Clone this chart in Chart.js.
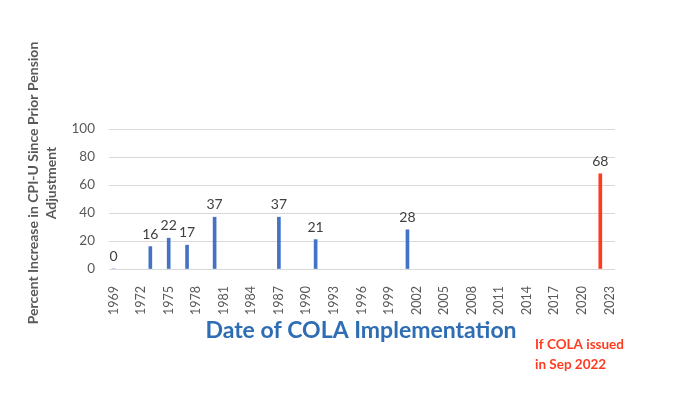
<!DOCTYPE html>
<html>
<head>
<meta charset="utf-8">
<script src="https://cdn.jsdelivr.net/npm/chart.js@4.4.0/dist/chart.umd.min.js"></script>
<style>
  body { margin: 0; background: #fff; }
  #wrap { width: 684px; height: 395px; position: relative; }
</style>
</head>
<body>
<div id="wrap"><canvas id="myChart" width="684" height="395"></canvas></div>
<script>
// years of each COLA and the CPI-U increase since the prior one
const colaYears = [1969, 1973, 1975, 1977, 1980, 1987, 1991, 2001, 2022];
const cpiIncrease = [0, 16, 22, 17, 37, 37, 21, 28, 68];
const barColors = ['#4472C4', '#4472C4', '#4472C4', '#4472C4', '#4472C4', '#4472C4', '#4472C4', '#4472C4', '#FF3B1F'];
const yearTicks = [1969, 1972, 1975, 1978, 1981, 1984, 1987, 1990, 1993, 1996, 1999, 2002, 2005, 2008, 2011, 2014, 2017, 2020, 2023];
const yTicks = [0, 20, 40, 60, 80, 100];

const points = colaYears.map((yr, i) => ({ x: yr, y: cpiIncrease[i] }));

// value labels above each bar + titles
const labelPlugin = {
  id: 'labelPlugin',
  afterDatasetsDraw(chart) {
    const ctx = chart.ctx;
    const meta = chart.getDatasetMeta(0);
    ctx.save();
    ctx.font = '14px Lato';
    ctx.fillStyle = '#404040';
    ctx.textAlign = 'center';
    ctx.textBaseline = 'alphabetic';
    meta.data.forEach((bar, i) => {
      ctx.fillText(String(cpiIncrease[i]), bar.x, bar.y - 8);
    });
    ctx.restore();
  },
  afterDraw(chart) {
    const ctx = chart.ctx;
    ctx.save();
    // y title
    ctx.translate(42, 183);
    ctx.rotate(-Math.PI / 2);
    ctx.font = 'bold 14px Lato';
    ctx.fillStyle = '#595959';
    ctx.textAlign = 'center';
    ctx.textBaseline = 'middle';
    ctx.fillText('Percent Increase in CPI-U Since Prior Pension', 0, -9);
    ctx.fillText('Adjustment', 0, 9);
    ctx.restore();

    ctx.save();
    ctx.font = 'bold 23px Lato';
    ctx.fillStyle = '#2E6DB4';
    ctx.textAlign = 'center';
    ctx.textBaseline = 'middle';
    ctx.fillText('Date of COLA Implementation', 361, 331);
    ctx.font = 'bold 13.5px Lato';
    ctx.fillStyle = '#FF3B1F';
    ctx.textAlign = 'left';
    ctx.fillText('If COLA issued', 535, 345);
    ctx.fillText('in Sep 2022', 535, 365);
    ctx.restore();
  }
};

const config = {
  type: 'bar',
  data: {
    datasets: [{
      data: points,
      backgroundColor: barColors,
      barThickness: 3
    }]
  },
  options: {
    responsive: false,
    animation: false,
    layout: { padding: { top: 129, right: 69, bottom: 0, left: 0 } },
    plugins: {
      legend: { display: false },
      tooltip: { enabled: false }
    },
    scales: {
      x: {
        type: 'linear',
        offset: false,
        min: 1968.5,
        max: 2023.6,
        afterBuildTicks: function(scale) {
          scale.ticks = yearTicks.map(v => ({ value: v }));
        },
        afterFit: function(scale) { scale.height = 126; },
        grid: { display: false },
        border: { display: false },
        ticks: {
          autoSkip: false,
          minRotation: 90,
          maxRotation: 90,
          padding: 9,
          color: '#595959',
          font: { family: 'Lato', size: 12.5 },
          callback: v => String(v)
        }
      },
      y: {
        min: 0,
        max: 100,
        afterBuildTicks: function(scale) {
          scale.ticks = yTicks.map(v => ({ value: v }));
        },
        afterFit: function(scale) { scale.width = 109; },
        grid: { color: '#D9D9D9', drawTicks: false },
        border: { display: false },
        ticks: {
          padding: 14,
          color: '#595959',
          font: { family: 'Lato', size: 13.5 }
        }
      }
    }
  },
  plugins: [labelPlugin]
};

const myChart = new Chart(document.getElementById('myChart'), config);
</script>
</body>
</html>
